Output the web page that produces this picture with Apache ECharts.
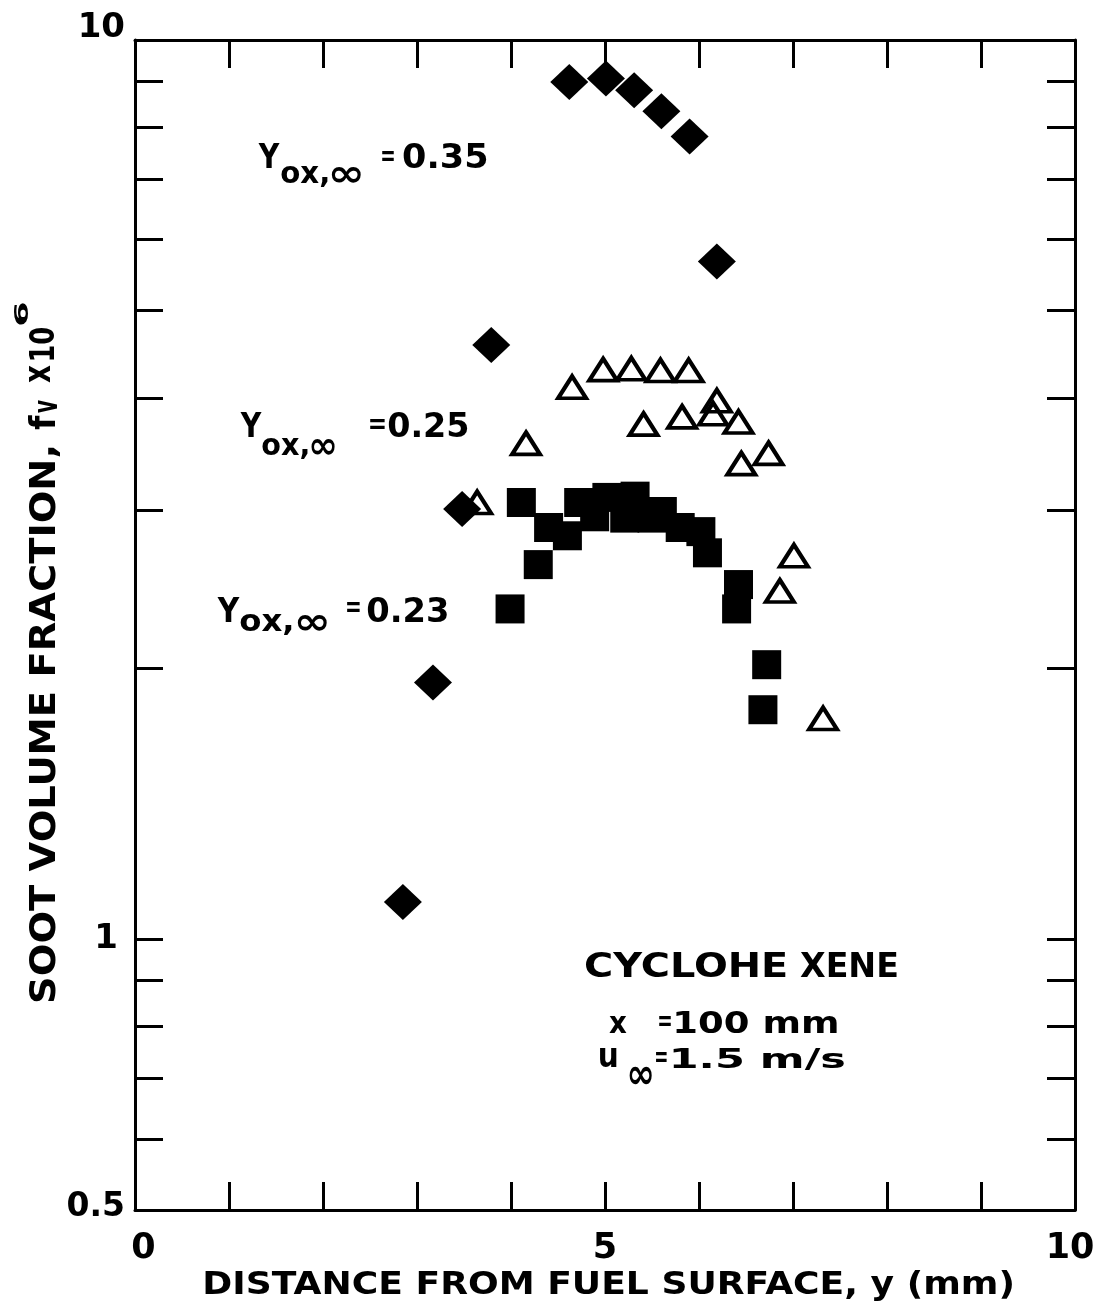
<!DOCTYPE html>
<html>
<head>
<meta charset="utf-8">
<script src="https://cdn.jsdelivr.net/npm/echarts@6/dist/echarts.min.js"></script>
<style>
  html, body { margin: 0; padding: 0; background: #fff; }
  #chart { width: 1097px; height: 1312px; }
</style>
</head>
<body>
<div id="chart"></div>
<script>
// Soot volume fraction profiles across the flame (cyclohexene, x = 100 mm)
// Y_ox,inf = 0.35 (filled diamonds)
const diamondX = [2.85, 3.17, 3.48, 3.79, 4.62, 5.01, 5.31, 5.60, 5.90, 6.19];
const diamondY = [1.10, 1.93, 3.01, 4.58, 8.98, 9.06, 8.79, 8.33, 7.81, 5.67];

// Y_ox,inf = 0.25 (open triangles)
const triangleX = [3.64, 4.16, 4.65, 4.98, 5.28, 5.59, 5.89, 5.41, 5.82, 6.19, 6.15, 6.42, 6.45, 6.74, 7.01, 6.86, 7.32];
const triangleY = [3.06, 3.56, 4.11, 4.30, 4.31, 4.29, 4.29, 3.74, 3.81, 3.97, 3.84, 3.76, 3.38, 3.47, 2.67, 2.44, 1.76];

// Y_ox,inf = 0.23 (filled squares)
const squareX = [3.99, 4.11, 4.29, 4.40, 4.60, 4.72, 4.89, 5.02, 5.21, 5.32, 5.50, 5.61, 5.80, 6.02, 6.09, 6.42, 6.40, 6.72, 6.68];
const squareY = [2.33, 3.06, 2.61, 2.87, 2.81, 3.06, 2.95, 3.10, 2.94, 3.11, 2.94, 2.99, 2.87, 2.84, 2.69, 2.48, 2.33, 2.02, 1.80];

// Axis ticks and labels
const xTickLabels = [0, 5, 10];
const yTickValues = [0.6, 0.7, 0.8, 0.9, 1, 2, 3, 4, 5, 6, 7, 8, 9];
const yTickLabels = [0.5, 1, 10];

const FAMILY = "'DejaVu Sans', 'Liberation Sans', sans-serif";
const INK = '#000';

function zip(xs, ys) { return xs.map((x, i) => [x, ys[i]]); }

// ---- lettering helpers: fit a text run into a given ink box ----
const mctx = document.createElement('canvas').getContext('2d');
function inkBox(text, font) {
  mctx.font = font; mctx.textAlign = 'left'; mctx.textBaseline = 'middle';
  const m = mctx.measureText(text);
  return { l: m.actualBoundingBoxLeft, r: m.actualBoundingBoxRight,
           a: m.actualBoundingBoxAscent, d: m.actualBoundingBoxDescent };
}
// b = [left, top, right, bottom] of the ink on screen
// mode: 'cap' -> vertical size from capital H, 'xh' -> from lowercase x, 'ink' -> from the run itself
function letter(text, b, mode, opts) {
  opts = opts || {};
  const font = (opts.italic ? 'italic ' : '') + (opts.weight || 'bold') + ' 40px ' + FAMILY;
  const ink = inkBox(text, font);
  const ref = mode === 'cap' ? inkBox('H', font) : mode === 'xh' ? inkBox('x', font) : ink;
  const along = ink.l + ink.r, cross = ref.a + ref.d;
  let x0, y0, sx, sy, rot = 0;
  if (opts.rotate) {
    // reads bottom to top: local x -> screen up, local y -> screen right
    rot = Math.PI / 2;
    sx = (b[3] - b[1]) / along;
    sy = (b[2] - b[0]) / cross;
    y0 = b[3] - ink.l * sx;
    x0 = b[0] + ref.a * sy;
  } else {
    sx = (b[2] - b[0]) / along;
    sy = (b[3] - b[1]) / cross;
    x0 = b[0] + ink.l * sx;
    y0 = b[1] + ref.a * sy;
  }
  return {
    type: 'text', x: x0, y: y0, rotation: rot, scaleX: sx, scaleY: sy, silent: true,
    style: { text: text, font: font, fill: INK, align: 'left', verticalAlign: 'middle',
             textAlign: 'left', textVerticalAlign: 'middle' }
  };
}

const tickStyle = { show: true, inside: true, length: 28, lineStyle: { color: INK, width: 3 } };
const lineStyle = { show: true, onZero: false, lineStyle: { color: INK, width: 3 } };
const labelFont = { fontFamily: FAMILY, fontWeight: 'bold', color: INK };

const chart = echarts.init(document.getElementById('chart'), null, { renderer: 'canvas' });

chart.setOption({
  backgroundColor: '#fff',
  animation: false,
  grid: { left: 135, right: 22, top: 40, bottom: 102, containLabel: false, outerBoundsMode: 'none' },
  xAxis: [
    {
      type: 'value', position: 'bottom', min: 0, max: 10, interval: 1,
      axisLine: lineStyle, axisTick: tickStyle, splitLine: { show: false },
      axisLabel: Object.assign({
        margin: 21, fontSize: 35, hideOverlap: false,
        formatter: v => (v === 0 ? '{z|0}' : v === 10 ? '{t|10}' : xTickLabels.indexOf(v) >= 0 ? String(v) : ''),
        rich: {
          z: Object.assign({ fontSize: 35, padding: [0, 0, 0, 17] }, labelFont),
          t: Object.assign({ fontSize: 35, padding: [0, 10, 0, 0] }, labelFont)
        }
      }, labelFont)
    },
    {
      type: 'value', position: 'top', min: 0, max: 10, interval: 1,
      axisLine: lineStyle, axisTick: tickStyle, splitLine: { show: false },
      axisLabel: { show: false }
    }
  ],
  yAxis: [
    {
      type: 'log', logBase: 10, position: 'left', min: 0.5, max: 10,
      axisLine: lineStyle, splitLine: { show: false }, minorTick: { show: false },
      axisTick: Object.assign({ customValues: yTickValues }, tickStyle),
      axisLabel: Object.assign({
        customValues: yTickLabels, margin: 10, fontSize: 34,
        formatter: v => {
          if (Math.abs(v - 10) < 1e-6) return '{hi|10}';
          if (Math.abs(v - 0.5) < 1e-6) return '{lo|0.5}';
          return '{mid|1}';
        },
        rich: {
          hi: Object.assign({ fontSize: 34, padding: [0, 0, 23, 0] }, labelFont),
          mid: Object.assign({ fontSize: 34, padding: [0, 7, 0, 0] }, labelFont),
          lo: Object.assign({ fontSize: 33, padding: [0, 0, 6, 0] }, labelFont)
        }
      }, labelFont)
    },
    {
      type: 'log', logBase: 10, position: 'right', min: 0.5, max: 10,
      axisLine: lineStyle, splitLine: { show: false }, minorTick: { show: false },
      axisTick: Object.assign({ customValues: yTickValues }, tickStyle),
      axisLabel: { show: false }
    }
  ],
  series: [
    {
      name: 'Yox,inf = 0.35', type: 'scatter', xAxisIndex: 0, yAxisIndex: 0,
      symbol: 'diamond', symbolSize: [38, 36],
      itemStyle: { color: INK, opacity: 1 },
      data: zip(diamondX, diamondY), z: 3
    },
    {
      name: 'Yox,inf = 0.23', type: 'scatter', xAxisIndex: 0, yAxisIndex: 0,
      symbol: 'rect', symbolSize: 29,
      itemStyle: { color: INK, opacity: 1 },
      data: zip(squareX, squareY), z: 4
    },
    {
      name: 'Yox,inf = 0.25', type: 'scatter', xAxisIndex: 0, yAxisIndex: 0,
      symbol: 'triangle', symbolSize: [28, 22],
      itemStyle: { color: 'rgba(255,255,255,0)', borderColor: INK, borderWidth: 4, opacity: 1 },
      data: zip(triangleX, triangleY), z: 5
    }
  ],
  graphic: [
    // y-axis title, reading upward
    letter('SOOT VOLUME FRACTION,', [28, 447, 55, 1002], 'cap', { rotate: true }),
    letter('f', [27, 415, 55, 430], 'ink', { rotate: true }),
    letter('v', [38, 400, 57, 413], 'ink', { rotate: true }),
    letter('x', [29, 365, 50, 383], 'ink', { rotate: true }),
    letter('10', [28, 328, 55, 360], 'ink', { rotate: true }),
    letter('6', [12, 303, 28, 325], 'ink', { rotate: true }),

    // x-axis title
    letter('DISTANCE FROM FUEL SURFACE, y (mm)', [205, 1270, 1012, 1294], 'cap'),

    // oxygen mass fraction labels
    letter('Y', [258, 143, 280, 168], 'cap'),
    letter('ox,', [281, 166, 328, 183], 'xh'),
    letter('\u221E', [331, 166, 361, 183], 'ink', { italic: true }),
    letter('=', [382, 151, 394, 161], 'ink'),
    letter('0.35', [403, 143, 487, 168], 'cap'),

    letter('Y', [240, 412, 262, 437], 'cap'),
    letter('ox,', [262, 438, 308, 455], 'xh'),
    letter('\u221E', [311, 438, 335, 455], 'ink', { italic: true }),
    letter('=', [370, 419, 385, 429], 'ink'),
    letter('0.25', [388, 412, 468, 437], 'cap'),

    letter('Y', [217, 597, 240, 622], 'cap'),
    letter('ox,', [240, 614, 292, 631], 'xh'),
    letter('\u221E', [297, 614, 327, 631], 'ink', { italic: true }),
    letter('=', [347, 602, 360, 612], 'ink'),
    letter('0.23', [367, 597, 447, 622], 'cap'),

    // flame conditions
    letter('CYCLOHE', [586, 952, 786, 977], 'cap'),
    letter('XENE', [800, 952, 897, 977], 'cap'),
    letter('x', [609, 1016, 627, 1033], 'ink'),
    letter('=', [659, 1016, 671, 1026], 'ink'),
    letter('100 mm', [676, 1010, 837, 1033], 'cap'),
    letter('u', [600, 1049, 617, 1068], 'ink'),
    letter('\u221E', [629, 1066, 652, 1085], 'ink', { italic: true }),
    letter('=', [656, 1052, 667, 1062], 'ink'),
    letter('1.5 m/s', [673, 1048, 844, 1068], 'cap')
  ]
});
</script>
</body>
</html>
